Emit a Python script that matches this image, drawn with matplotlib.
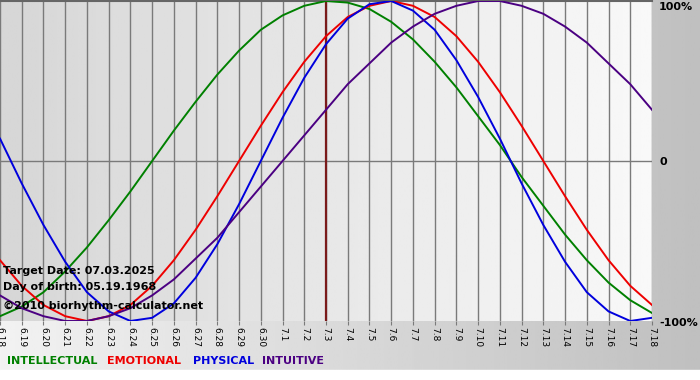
import matplotlib.pyplot as plt
import numpy as np

# day labels along the bottom (6.18 .. 7.18)
dates = ["6.18", "6.19", "6.20", "6.21", "6.22", "6.23", "6.24", "6.25", "6.26",
         "6.27", "6.28", "6.29", "6.30", "7.1", "7.2", "7.3", "7.4", "7.5", "7.6",
         "7.7", "7.8", "7.9", "7.10", "7.11", "7.12", "7.13", "7.14", "7.15",
         "7.16", "7.17", "7.18"]

# cycle values read per day (-1 .. 1)
intellectual = [-0.97, -0.91, -0.82, -0.69, -0.54, -0.37, -0.19, 0.00, 0.19, 0.37,
                0.54, 0.69, 0.82, 0.91, 0.97, 1.00, 0.99, 0.95, 0.87, 0.76, 0.62,
                0.46, 0.28, 0.10, -0.10, -0.28, -0.46, -0.62, -0.76, -0.87, -0.95]
emotional = [-0.62, -0.78, -0.90, -0.97, -1.00, -0.97, -0.90, -0.78, -0.62, -0.43,
             -0.22, 0.00, 0.22, 0.43, 0.62, 0.78, 0.90, 0.97, 1.00, 0.97, 0.90,
             0.78, 0.62, 0.43, 0.22, 0.00, -0.22, -0.43, -0.62, -0.78, -0.90]
physical = [0.14, -0.14, -0.40, -0.63, -0.82, -0.94, -1.00, -0.98, -0.89, -0.73,
            -0.52, -0.27, 0.00, 0.27, 0.52, 0.73, 0.89, 0.98, 1.00, 0.94, 0.82,
            0.63, 0.40, 0.14, -0.14, -0.40, -0.63, -0.82, -0.94, -1.00, -0.98]
intuitive = [-0.84, -0.92, -0.97, -1.00, -1.00, -0.97, -0.92, -0.84, -0.74, -0.61,
             -0.48, -0.32, -0.16, 0.00, 0.16, 0.32, 0.48, 0.61, 0.74, 0.84, 0.92,
             0.97, 1.00, 1.00, 0.97, 0.92, 0.84, 0.74, 0.61, 0.48, 0.32]

target_idx = 15  # 7.3

series = [("INTELLECTUAL", intellectual, "#008000"),
          ("EMOTIONAL", emotional, "#ee0000"),
          ("PHYSICAL", physical, "#0000dd"),
          ("INTUITIVE", intuitive, "#4b0082")]

W, H = 700, 380
fig = plt.figure(figsize=(W / 100, H / 100), dpi=100)

# figure background: horizontal gradient, white strip at the bottom
bg = fig.add_axes([0, 0, 1, 1], zorder=-10)
bg.axis("off")
bg.imshow(np.linspace(0.95, 0.75, 256).reshape(1, -1), cmap="gray", vmin=0, vmax=1,
          aspect="auto", extent=[0, 1, 0, 1])
bg.axhspan(0, 10 / H, color="white")
bg.set_xlim(0, 1)
bg.set_ylim(0, 1)

ax = fig.add_axes([0, 59 / H, 652 / W, 320 / H])
x = np.arange(len(dates))
ax.set_xlim(0, len(dates) - 1)
ax.set_ylim(-1, 1)
ax.imshow(np.linspace(0.84, 0.975, 256).reshape(1, -1), cmap="gray", vmin=0, vmax=1,
          aspect="auto", extent=[0, len(dates) - 1, -1, 1], zorder=0)

for xi in x:
    ax.axvline(xi, color="#7a7a7a", lw=1.0, zorder=1)
ax.axhline(0, color="#7a7a7a", lw=1.0, zorder=1)
ax.axvline(target_idx, color="#7a1a1a", lw=1.6, zorder=3)

for name, vals, col in series:
    ax.plot(x, vals, color=col, lw=1.4, zorder=4)

for s in ["left", "right", "bottom"]:
    ax.spines[s].set_visible(False)
ax.spines["top"].set_color("#666666")
ax.spines["top"].set_linewidth(1.5)

ax.set_yticks([])
ax.set_xticks(x, dates, rotation=-90, fontsize=6.5)
ax.tick_params(axis="x", length=3, color="#7a7a7a", pad=1)

# right side percentage labels
for txt, yv in [("100%", 7), ("0", 162), ("-100%", 323)]:
    fig.text(659 / W, 1 - yv / H, txt, fontsize=8, fontweight="bold",
             ha="left", va="center")

# info text inside the plot
info = [("Target Date: 07.03.2025", 271), ("Day of birth: 05.19.1968", 287),
        ("\u00a92010 biorhythm-calculator.net", 306)]
for txt, yv in info:
    fig.text(3 / W, 1 - yv / H, txt, fontsize=8, fontweight="bold",
             ha="left", va="center", zorder=10)

# coloured legend words
for (name, vals, col), xp in zip(series, [7, 107, 193, 262]):
    fig.text(xp / W, 1 - 361 / H, name, fontsize=8, fontweight="bold", color=col,
             ha="left", va="center")

plt.savefig("out.png", dpi=100)
